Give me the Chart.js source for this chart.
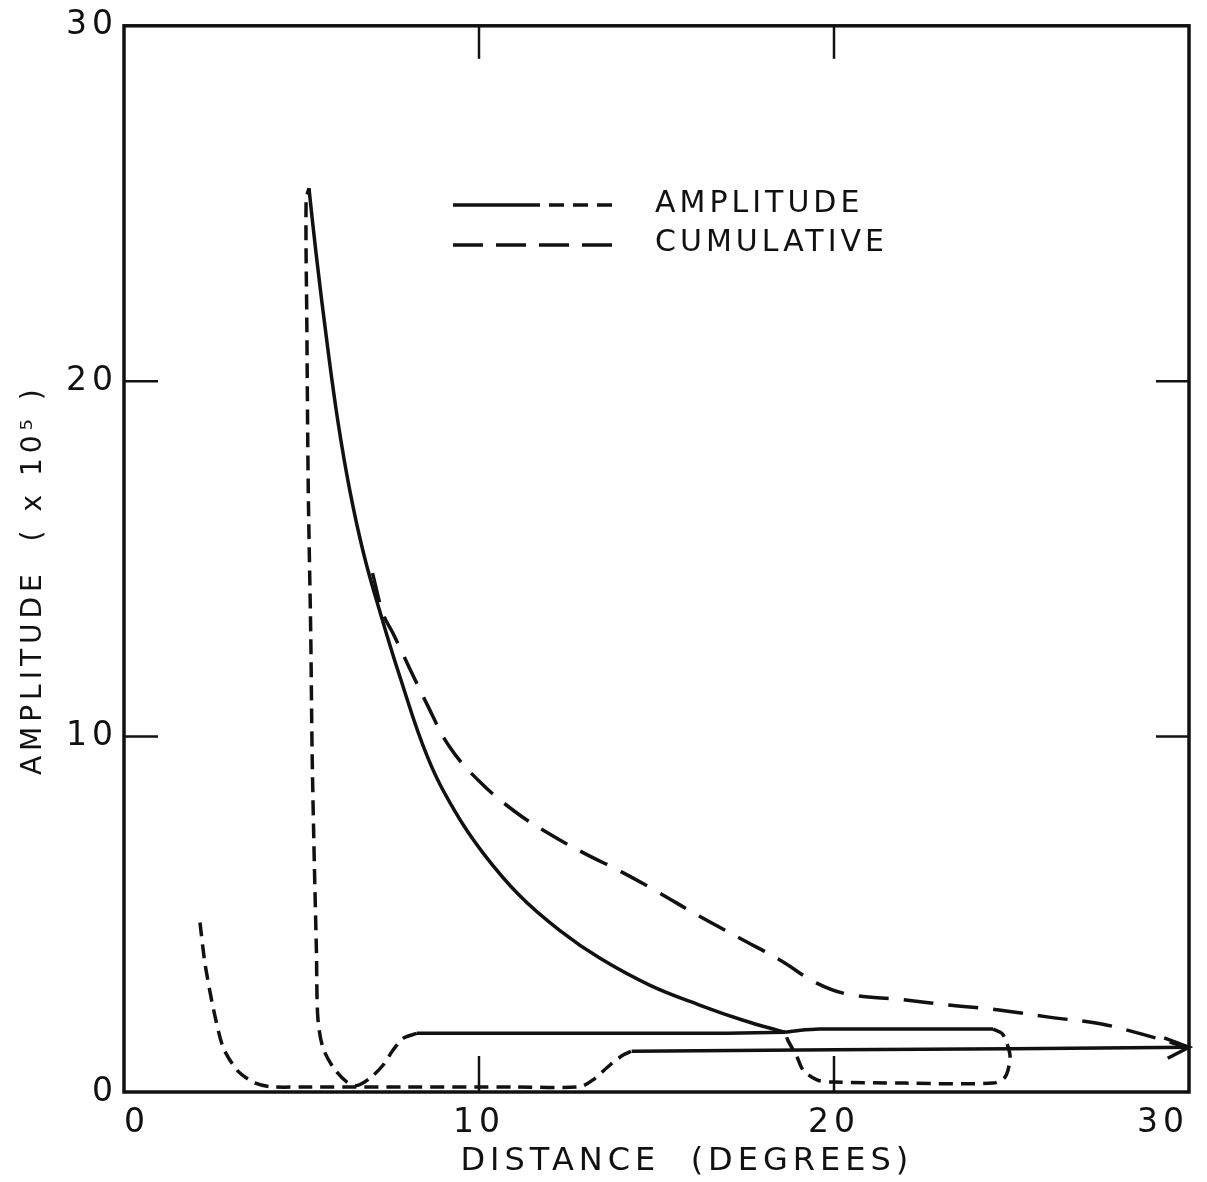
<!DOCTYPE html>
<html>
<head>
<meta charset="utf-8">
<script src="https://cdn.jsdelivr.net/npm/chart.js@4.4.1/dist/chart.umd.min.js"></script>
<style>
  html, body { margin: 0; padding: 0; background: #fff; }
  #wrap { width: 1207px; height: 1182px; }
</style>
</head>
<body>
<div id="wrap"><canvas id="chart" width="1207" height="1182"></canvas></div>
<script>
// Valori (distanta in grade, amplitudine x 10^5)
const xTicks = [0, 10, 20, 30];
const yTicks = [0, 10, 20, 30];
const innerTicks = [10, 20];

// ramura care porneste pe la 2 grade (intrerupta), apoi continua plin spre 30
const ampNearDash = [[2.14, 4.77], [2.28, 3.62], [2.51, 2.38], [2.79, 1.26], [3.18, 0.62], [3.63, 0.28], [4.1, 0.15], [5, 0.14], [8, 0.14], [11, 0.14], [12.85, 0.15], [13.21, 0.34], [13.69, 0.76], [14.06, 1.04], [14.3, 1.15]];
const ampFarSolid = [[14.3, 1.15], [20, 1.19], [25, 1.22], [30, 1.26]];
const arrowHead = [[29.3, 1.52], [30, 1.26], [29.4, 0.95]];

// curba principala: varf -> cuspida
const ampMain = [[5.21, 25.43], [5.41, 23.6], [5.72, 21.08], [6.03, 18.84], [6.37, 16.88], [6.76, 15.11], [7.21, 13.51], [7.77, 11.69], [8.54, 9.45], [9.32, 7.9], [10.11, 6.73], [11.15, 5.52], [12.28, 4.54], [13.41, 3.76], [14.82, 3.0], [16.23, 2.44], [17.44, 2.02], [18.62, 1.68]];
const ampPlateau = [[18.62, 1.68], [17, 1.65], [12, 1.65], [8.25, 1.65]];
const ampDrop = [[8.25, 1.65], [7.86, 1.51], [7.58, 1.18], [7.3, 0.76], [6.93, 0.39], [6.56, 0.18], [6.28, 0.28], [5.89, 0.7], [5.6, 1.26], [5.46, 2.1], [5.42, 3.98], [5.36, 6.5], [5.3, 9.5], [5.26, 12.9], [5.19, 17.0], [5.15, 21.7], [5.13, 25.1], [5.21, 25.43]];
const ampLoopSolid = [[18.62, 1.68], [19.0, 1.73], [19.6, 1.77], [22, 1.77], [24.48, 1.77]];
const ampLoopDash = [[24.48, 1.77], [24.73, 1.65], [24.87, 1.37], [24.96, 0.98], [24.82, 0.42], [24.48, 0.25], [22, 0.25], [19.97, 0.28], [19.52, 0.34], [19.13, 0.62], [18.96, 0.98], [18.7, 1.46], [18.62, 1.68]];

// curba cumulativa
const cumulative = [[7.0, 14.6], [7.3, 13.45], [7.58, 12.9], [8.54, 10.9], [9.18, 9.7], [10.0, 8.75], [11.0, 7.9], [12.0, 7.25], [13.0, 6.7], [14.0, 6.2], [15.0, 5.65], [16.2, 4.95], [17.4, 4.3], [18.5, 3.7], [19.5, 3.07], [20.4, 2.75], [21.9, 2.6], [23.3, 2.44], [24.7, 2.3], [26.1, 2.1], [27.5, 1.92], [28.7, 1.62], [29.94, 1.26]];

const INK = '#111';
const FONT = 'DejaVu Sans';
const SHORT_DASH = [14, 8];
const LONG_DASH = [30, 15];

const toPts = (arr) => arr.map(([x, y]) => ({ x, y }));

const line = (data, dash, tension = 0.3) => ({
    data: toPts(data),
    borderColor: INK,
    borderWidth: 3.5,
    borderDash: dash,
    pointRadius: 0,
    showLine: true,
    tension: tension,
    fill: false,
    clip: false
});

// rama + liniute interioare
const frameTicks = {
    id: 'frameTicks',
    beforeDraw(chart) {
        chart.ctx.letterSpacing = '5px';
    },
    afterDraw(chart) {
        const { ctx, chartArea: a, scales: { x, y } } = chart;
        const seg = (x1, y1, x2, y2) => {
            ctx.beginPath();
            ctx.moveTo(x1, y1);
            ctx.lineTo(x2, y2);
            ctx.stroke();
        };
        ctx.save();
        ctx.setLineDash([]);
        ctx.strokeStyle = INK;
        ctx.lineWidth = 3.5;
        ctx.strokeRect(a.left, a.top, a.right - a.left, a.bottom - a.top);
        ctx.lineWidth = 2.5;
        innerTicks.forEach(v => {
            const px = x.getPixelForValue(v);
            seg(px, a.top, px, a.top + 33);
            seg(px, a.bottom, px, a.bottom - 36);
            const py = y.getPixelForValue(v);
            seg(a.left, py, a.left + 34, py);
            seg(a.right, py, a.right - 33, py);
        });
        ctx.restore();
    }
};

// legenda desenata manual (mostra plin + intrerupt)
const legendBox = {
    id: 'legendBox',
    afterDraw(chart) {
        const ctx = chart.ctx;
        ctx.save();
        ctx.strokeStyle = INK;
        ctx.fillStyle = INK;
        ctx.lineWidth = 3.5;
        ctx.setLineDash([]);
        ctx.beginPath(); ctx.moveTo(453, 205); ctx.lineTo(540, 205); ctx.stroke();
        ctx.setLineDash([15, 9]);
        ctx.beginPath(); ctx.moveTo(549, 205); ctx.lineTo(614, 205); ctx.stroke();
        ctx.setLineDash([30, 13]);
        ctx.beginPath(); ctx.moveTo(453, 245); ctx.lineTo(614, 245); ctx.stroke();
        ctx.setLineDash([]);
        ctx.font = `30px "${FONT}"`;
        ctx.letterSpacing = '4px';
        ctx.textBaseline = 'middle';
        ctx.textAlign = 'left';
        ctx.fillText('AMPLITUDE', 655, 204);
        ctx.fillText('CUMULATIVE', 655, 243);
        ctx.restore();
    }
};

document.addEventListener('DOMContentLoaded', () => {
    const ctx = document.getElementById('chart').getContext('2d');
    new Chart(ctx, {
        type: 'scatter',
        data: {
            datasets: [
                line(ampNearDash, SHORT_DASH, 0.25),
                line(ampFarSolid, [], 0),
                line(arrowHead, [], 0),
                line(ampMain, [], 0.4),
                line(ampPlateau, [], 0),
                line(ampDrop, [15, 8], 0.3),
                line(ampLoopSolid, [], 0.3),
                line(ampLoopDash, SHORT_DASH, 0.3),
                line(cumulative, LONG_DASH, 0.4)
            ]
        },
        options: {
            responsive: false,
            animation: false,
            devicePixelRatio: 1,
            layout: { padding: { top: 22, right: 18, left: 0, bottom: 0 } },
            plugins: {
                legend: { display: false },
                tooltip: { enabled: false }
            },
            scales: {
                x: {
                    type: 'linear',
                    min: 0,
                    max: 30,
                    afterBuildTicks: (scale) => { scale.ticks = xTicks.map(v => ({ value: v })); },
                    afterFit: (scale) => { scale.height = 90; },
                    grid: { display: false, drawTicks: false },
                    border: { display: false },
                    ticks: {
                        align: 'inner',
                        padding: 12,
                        color: INK,
                        font: { family: FONT, size: 33 },
                        callback: (v) => String(v)
                    },
                    title: {
                        display: true,
                        text: '    DISTANCE  (DEGREES)',
                        color: INK,
                        font: { family: FONT, size: 32 },
                        padding: { top: 0, bottom: 1 }
                    }
                },
                y: {
                    type: 'linear',
                    min: 0,
                    max: 30,
                    afterBuildTicks: (scale) => { scale.ticks = yTicks.map(v => ({ value: v })); },
                    afterFit: (scale) => { scale.width = 124; },
                    grid: { display: false, drawTicks: false },
                    border: { display: false },
                    ticks: {
                        padding: 6,
                        color: INK,
                        font: { family: FONT, size: 33 },
                        callback: (v) => String(v)
                    },
                    title: {
                        display: true,
                        text: 'AMPLITUDE  ( x 10⁵ )   ',
                        color: INK,
                        font: { family: FONT, size: 28 },
                        padding: { top: 17, bottom: 0 }
                    }
                }
            }
        },
        plugins: [frameTicks, legendBox]
    });
});
</script>
</body>
</html>
